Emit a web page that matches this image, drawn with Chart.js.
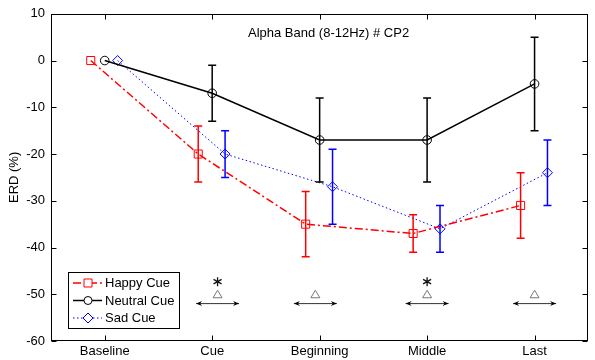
<!DOCTYPE html>
<html>
<head>
<meta charset="utf-8">
<script src="https://cdn.jsdelivr.net/npm/chart.js@4"></script>
<style>
  html, body { margin: 0; padding: 0; background: #fff; }
</style>
</head>
<body>
<canvas id="chartErd" width="595" height="360"></canvas>
<script>
// categories and values
const categories = ["Baseline", "Cue", "Beginning", "Middle", "Last"];
const happyMean = [0, -20, -35, -37, -31];
const happyErr = [0, 6, 7, 4, 7];
const neutralMean = [0, -7, -17, -17, -5];
const neutralErr = [0, 6, 9, 9, 10];
const sadMean = [0, -20, -27, -36, -24];
const sadErr = [0, 5, 8, 5, 7];
const yTickValues = [10, 0, -10, -20, -30, -40, -50, -60];

// significance marks (x in category units, y in ERD units)
const triangleX = [2.05, 2.96, 4, 5];
const starX = [2.05, 4];
const triangleY = -50;
const starY = -47.3;
const arrowY = -52;
const arrowHalf = 0.2;

const series = [
  { label: "Happy Cue", mean: happyMean, err: happyErr, color: "#ff0000", offset: -0.13,
    dash: [8, 3, 2, 3], width: 1.5, marker: "rect", radius: 5.7 },
  { label: "Neutral Cue", mean: neutralMean, err: neutralErr, color: "#000000", offset: 0,
    dash: [], width: 1.5, marker: "circle", radius: 4.3 },
  { label: "Sad Cue", mean: sadMean, err: sadErr, color: "#0000ff", offset: 0.12,
    dash: [1.5, 2.5], width: 1, marker: "rectRot", radius: 5 },
];

const font = "Arial, 'Liberation Sans', sans-serif";

const extras = {
  id: "extras",
  afterDatasetsDraw(chart) {
    const ctx = chart.ctx;
    const xs = chart.scales.x, ys = chart.scales.y;
    // error bars
    series.forEach(s => {
      ctx.save();
      ctx.strokeStyle = s.color;
      ctx.lineWidth = 1.5;
      s.mean.forEach((m, i) => {
        if (!s.err[i]) return;
        const x = xs.getPixelForValue(i + 1 + s.offset);
        const yt = ys.getPixelForValue(m + s.err[i]);
        const yb = ys.getPixelForValue(m - s.err[i]);
        ctx.beginPath();
        ctx.moveTo(x, yt); ctx.lineTo(x, yb);
        ctx.moveTo(x - 4, yt); ctx.lineTo(x + 4, yt);
        ctx.moveTo(x - 4, yb); ctx.lineTo(x + 4, yb);
        ctx.stroke();
      });
      ctx.restore();
    });

    // triangles and arrows
    ctx.save();
    triangleX.forEach(v => {
      const x = xs.getPixelForValue(v);
      const y = ys.getPixelForValue(triangleY);
      ctx.strokeStyle = "#777";
      ctx.lineWidth = 1;
      ctx.beginPath();
      ctx.moveTo(x, y - 4); ctx.lineTo(x + 4.5, y + 3.5); ctx.lineTo(x - 4.5, y + 3.5); ctx.closePath();
      ctx.stroke();
      const ya = ys.getPixelForValue(arrowY);
      const x1 = xs.getPixelForValue(v - arrowHalf), x2 = xs.getPixelForValue(v + arrowHalf);
      ctx.strokeStyle = "#333";
      ctx.beginPath(); ctx.moveTo(x1, ya); ctx.lineTo(x2, ya); ctx.stroke();
      ctx.fillStyle = "#000";
      ctx.beginPath(); ctx.moveTo(x1, ya); ctx.lineTo(x1 + 6, ya - 2.5); ctx.lineTo(x1 + 4, ya); ctx.lineTo(x1 + 6, ya + 2.5); ctx.closePath(); ctx.fill();
      ctx.beginPath(); ctx.moveTo(x2, ya); ctx.lineTo(x2 - 6, ya - 2.5); ctx.lineTo(x2 - 4, ya); ctx.lineTo(x2 - 6, ya + 2.5); ctx.closePath(); ctx.fill();
    });
    // asterisks (MATLAB style '*' marker)
    ctx.strokeStyle = "#111";
    ctx.lineWidth = 1.3;
    starX.forEach(v => {
      const x = xs.getPixelForValue(v), y = ys.getPixelForValue(starY);
      ctx.beginPath();
      ctx.moveTo(x, y - 4.5); ctx.lineTo(x, y + 4.5);
      ctx.moveTo(x - 4, y - 2.3); ctx.lineTo(x + 4, y + 2.3);
      ctx.moveTo(x - 4, y + 2.3); ctx.lineTo(x + 4, y - 2.3);
      ctx.stroke();
    });
    ctx.restore();
  },
  afterDraw(chart) {
    const ctx = chart.ctx;
    const a = chart.chartArea;
    const xs = chart.scales.x, ys = chart.scales.y;
    ctx.save();
    // axes box and inward ticks
    ctx.strokeStyle = "#000";
    ctx.lineWidth = 1;
    const L = Math.round(a.left) + 0.5, R = Math.round(a.right) - 0.5;
    const T = Math.round(a.top) + 0.5, B = Math.round(a.bottom) - 0.5;
    ctx.strokeRect(L, T, R - L, B - T);
    ctx.beginPath();
    categories.forEach((c, i) => {
      const x = Math.round(xs.getPixelForValue(i + 1)) + 0.5;
      ctx.moveTo(x, B); ctx.lineTo(x, B - 5);
      ctx.moveTo(x, T); ctx.lineTo(x, T + 5);
    });
    yTickValues.forEach(v => {
      const y = Math.round(ys.getPixelForValue(v)) + 0.5;
      ctx.moveTo(L, y); ctx.lineTo(L + 5, y);
      ctx.moveTo(R, y); ctx.lineTo(R - 5, y);
    });
    ctx.stroke();

    // title inside plot
    ctx.fillStyle = "#000";
    ctx.font = "13px " + font;
    ctx.textAlign = "left";
    ctx.textBaseline = "middle";
    ctx.fillText("Alpha Band (8-12Hz) # CP2", 248, 33);

    // legend
    const lx = 68.5, ly = 272.5, lw = 111, lh = 56;
    ctx.fillStyle = "#fff";
    ctx.fillRect(lx, ly, lw, lh);
    ctx.strokeStyle = "#000";
    ctx.lineWidth = 1;
    ctx.strokeRect(lx, ly, lw, lh);
    series.forEach((s, k) => {
      const y = ly + 10.5 + k * 17.5;
      ctx.strokeStyle = s.color;
      ctx.lineWidth = s.width;
      ctx.setLineDash(s.dash);
      ctx.beginPath(); ctx.moveTo(73, y); ctx.lineTo(102, y); ctx.stroke();
      ctx.setLineDash([]);
      ctx.lineWidth = 1;
      ctx.beginPath();
      if (s.marker === "rect") ctx.rect(84, y - 4, 8, 8);
      else if (s.marker === "circle") ctx.arc(88, y, 4, 0, Math.PI * 2);
      else { ctx.moveTo(88, y - 5); ctx.lineTo(93, y); ctx.lineTo(88, y + 5); ctx.lineTo(83, y); ctx.closePath(); }
      ctx.fillStyle = "#fff";
      ctx.fill();
      ctx.stroke();
      ctx.fillStyle = "#000";
      ctx.font = "13px " + font;
      ctx.fillText(s.label, 105, y + 0.5);
    });
    ctx.restore();
  }
};

new Chart(document.getElementById("chartErd"), {
  type: "line",
  data: {
    datasets: series.map(s => ({
      label: s.label,
      data: s.mean.map((m, i) => ({ x: i + 1 + s.offset, y: m })),
      borderColor: s.color,
      borderWidth: s.width,
      borderDash: s.dash,
      pointStyle: s.marker,
      pointRadius: s.radius,
      pointBorderWidth: 1,
      pointBorderColor: s.color,
      pointBackgroundColor: "rgba(255,255,255,0)",
      tension: 0,
    })),
  },
  options: {
    responsive: false,
    animation: false,
    layout: { padding: { top: 12, right: 5 } },
    plugins: { legend: { display: false }, tooltip: { enabled: false } },
    scales: {
      x: {
        type: "linear",
        min: 0.5,
        max: 5.5,
        grid: { display: false, drawTicks: false },
        border: { display: false },
        afterBuildTicks: axis => { axis.ticks = categories.map((c, i) => ({ value: i + 1 })); },
        afterFit: axis => { axis.height = 19; },
        ticks: {
          autoSkip: false,
          maxRotation: 0,
          padding: 3,
          color: "#000",
          font: { family: font, size: 13 },
          callback: v => categories[v - 1],
        },
      },
      y: {
        min: -60,
        max: 10,
        grid: { display: false, drawTicks: false },
        border: { display: false },
        afterBuildTicks: axis => { axis.ticks = yTickValues.map(v => ({ value: v })); },
        afterFit: axis => { axis.width = 51; },
        ticks: { padding: 6, color: "#000", font: { family: font, size: 13 } },
        title: {
          display: true,
          text: "ERD (%)",
          color: "#000",
          font: { family: font, size: 13 },
          padding: { top: 7, bottom: 0 },
        },
      },
    },
  },
  plugins: [extras],
});
</script>
</body>
</html>
